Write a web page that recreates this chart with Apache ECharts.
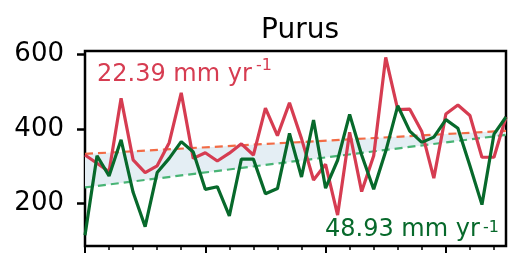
<!DOCTYPE html>
<html>
<head>
<meta charset="utf-8">
<script src="https://cdn.jsdelivr.net/npm/echarts@6/dist/echarts.min.js"></script>
<style>
  html, body { margin: 0; padding: 0; background: #fff; }
  #chart { width: 514px; height: 260px; }
</style>
</head>
<body>
<div id="chart"></div>
<script>
// yearly values
const years = [1980, 1981, 1982, 1983, 1984, 1985, 1986, 1987, 1988, 1989,
  1990, 1991, 1992, 1993, 1994, 1995, 1996, 1997, 1998, 1999,
  2000, 2001, 2002, 2003, 2004, 2005, 2006, 2007, 2008, 2009,
  2010, 2011, 2012, 2013, 2014, 2015]
const redValues = [330, 308, 285, 482, 317, 283, 301, 363, 497, 321,
  336, 314, 335, 360, 330, 456, 382, 470, 374, 263,
  305, 169, 391, 232, 328, 592, 452, 453, 393, 268,
  440, 464, 436, 324, 324, 432]
const greenValues = [115, 328, 274, 371, 230, 138, 283, 321, 366, 338,
  238, 245, 167, 319, 319, 226, 240, 388, 271, 424,
  241, 316, 439, 330, 238, 340, 462, 394, 364, 378,
  425, 402, 301, 197, 386, 432]

// trend lines, start and end of the period
const trendYears = [1980, 2015]
const redTrend = [333, 395]
const greenTrend = [243, 384]

const yTicks = [200, 400, 600]
const xMajorTicks = [1980, 1990, 2000, 2010]
const xMinorTicks = [1982, 1984, 1986, 1988, 1992, 1994, 1996, 1998,
  2002, 2004, 2006, 2008, 2012, 2014]

const redText = ['22.39 mm yr', '-1']
const greenText = ['48.93 mm yr', '-1']

const RED = '#d63c51'
const GREEN = '#07692b'
const FONT = 'DejaVu Sans'

const pairs = (xs, ys) => xs.map((x, i) => [x, ys[i]])

const chart = echarts.init(document.getElementById('chart'), null, { renderer: 'canvas' })

const xBase = {
  type: 'value',
  min: 1980,
  max: 2015,
  position: 'bottom',
  axisLine: { show: false },
  splitLine: { show: false },
  axisLabel: { show: false }
}

// band between the two trend lines
function renderBand(params, api) {
  const upper = trendYears.map((x, i) => api.coord([x, redTrend[i]]))
  const lower = trendYears.map((x, i) => api.coord([x, greenTrend[i]])).reverse()
  return {
    type: 'polygon',
    shape: { points: upper.concat(lower) },
    style: { fill: '#e4eef4' }
  }
}

const option = {
  animation: false,
  backgroundColor: '#fff',
  textStyle: { fontFamily: FONT },
  title: {
    text: 'Purus',
    left: 295,
    textAlign: 'center',
    top: 12,
    textStyle: { fontFamily: FONT, fontSize: 28, fontWeight: 'normal', color: '#000' }
  },
  grid: {
    left: 85,
    right: 8,
    top: 51,
    bottom: 14,
    show: true,
    borderColor: '#000',
    borderWidth: 2.5,
    backgroundColor: 'transparent'
  },
  xAxis: [
    Object.assign({}, xBase, {
      axisTick: { show: true, length: 7, lineStyle: { color: '#000', width: 2 }, customValues: xMajorTicks }
    }),
    Object.assign({}, xBase, {
      axisTick: { show: true, length: 4, lineStyle: { color: '#000', width: 1.5 }, customValues: xMinorTicks }
    })
  ],
  yAxis: {
    type: 'value',
    min: 86,
    max: 609,
    axisLine: { show: false },
    splitLine: { show: false },
    axisTick: { show: true, length: 8, lineStyle: { color: '#000', width: 2.5 }, customValues: yTicks },
    axisLabel: {
      customValues: yTicks,
      margin: 21,
      color: '#000',
      fontFamily: FONT,
      fontSize: 26
    }
  },
  series: [
    {
      type: 'custom',
      renderItem: renderBand,
      data: [[trendYears[0], redTrend[0]]],
      silent: true,
      z: 1
    },
    {
      type: 'line',
      data: pairs(trendYears, redTrend),
      symbol: 'none',
      lineStyle: { color: '#f26b45', width: 2.2, type: [8, 5] },
      z: 2
    },
    {
      type: 'line',
      data: pairs(trendYears, greenTrend),
      symbol: 'none',
      lineStyle: { color: '#48b475', width: 2.2, type: [8, 5] },
      z: 2
    },
    {
      type: 'line',
      data: pairs(years, redValues),
      symbol: 'none',
      lineStyle: { color: RED, width: 3.2 },
      z: 3
    },
    {
      type: 'line',
      data: pairs(years, greenValues),
      symbol: 'none',
      lineStyle: { color: GREEN, width: 3.2 },
      z: 4
    }
  ],
  graphic: [
    {
      type: 'text', left: 97, top: 63, z: 10,
      style: { text: redText[0], fill: RED, font: '24px "DejaVu Sans"' }
    },
    {
      type: 'text', left: 256, top: 58, z: 10,
      style: { text: redText[1], fill: RED, font: '16px "DejaVu Sans"' }
    },
    {
      type: 'text', left: 325, top: 218, z: 10,
      style: { text: greenText[0], fill: GREEN, font: '24px "DejaVu Sans"' }
    },
    {
      type: 'text', left: 483, top: 220, z: 10,
      style: { text: greenText[1], fill: GREEN, font: '16px "DejaVu Sans"' }
    }
  ]
}

chart.setOption(option)
</script>
</body>
</html>
